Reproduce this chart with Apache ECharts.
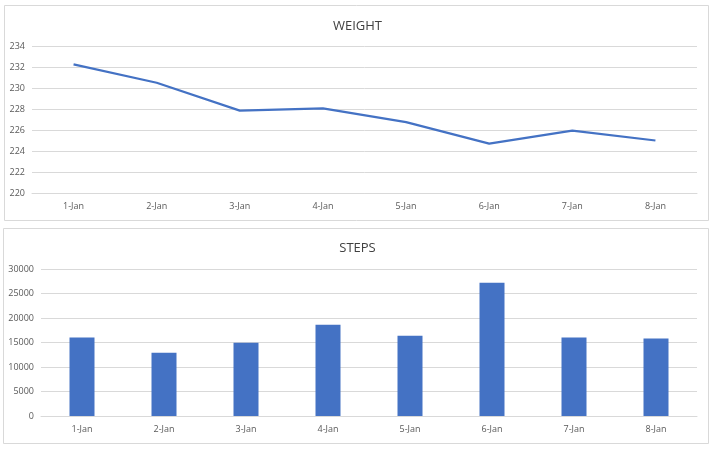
<!DOCTYPE html>
<html>
<head>
<meta charset="utf-8">
<script src="https://cdn.jsdelivr.net/npm/echarts@6/dist/echarts.min.js"></script>
<style>
  html, body { margin: 0; padding: 0; background: #fff; }
  #chart { width: 715px; height: 450px; }
</style>
</head>
<body>
<div id="chart"></div>
<script>
var days = ['1-Jan', '2-Jan', '3-Jan', '4-Jan', '5-Jan', '6-Jan', '7-Jan', '8-Jan'];
var weight = [232.25, 230.5, 227.85, 228.05, 226.75, 224.7, 225.95, 225.0];
var steps = [16000, 12900, 14950, 18600, 16400, 27200, 16000, 15800];
var weightTicks = [220, 234, 2];   // min, max, interval
var stepTicks = [0, 30000, 5000];

var blue = '#4472c4';
var grey = '#d9d9d9';
var txt = '#595959';
var font = 'Open Sans';

function xAxisFor(gridIndex) {
    return {
        type: 'category',
        gridIndex: gridIndex,
        data: days,
        boundaryGap: true,
        axisLine: { lineStyle: { color: grey } },
        axisTick: { show: false },
        axisLabel: { color: txt, fontSize: 9, fontFamily: font, margin: 9 }
    };
}

function yAxisFor(gridIndex, ticks) {
    return {
        type: 'value',
        gridIndex: gridIndex,
        min: ticks[0],
        max: ticks[1],
        interval: ticks[2],
        axisLine: { show: false },
        axisTick: { show: false },
        splitLine: { lineStyle: { color: grey } },
        axisLabel: { color: txt, fontSize: 9, fontFamily: font, margin: 7,
                     formatter: function (v) { return String(v); } }
    };
}

var option = {
    animation: false,
    backgroundColor: '#fff',
    graphic: [
        { type: 'rect', shape: { x: 4.5, y: 5.5, width: 704, height: 215 },
          style: { fill: 'none', stroke: grey, lineWidth: 1 } },
        { type: 'rect', shape: { x: 3.5, y: 228.5, width: 705, height: 215 },
          style: { fill: 'none', stroke: grey, lineWidth: 1 } }
    ],
    title: [
        { text: 'WEIGHT', left: 'center', top: 15,
          textStyle: { color: '#404040', fontSize: 13, fontWeight: 'normal', fontFamily: font } },
        { text: 'STEPS', left: 'center', top: 237,
          textStyle: { color: '#404040', fontSize: 13, fontWeight: 'normal', fontFamily: font } }
    ],
    grid: [
        { left: 32, right: 18, top: 46, bottom: 257 },
        { left: 41, right: 18, top: 269, bottom: 34 }
    ],
    xAxis: [xAxisFor(0), xAxisFor(1)],
    yAxis: [yAxisFor(0, weightTicks), yAxisFor(1, stepTicks)],
    series: [
        {
            type: 'line',
            xAxisIndex: 0,
            yAxisIndex: 0,
            data: weight,
            showSymbol: false,
            lineStyle: { color: blue, width: 2.25 },
            itemStyle: { color: blue }
        },
        {
            type: 'bar',
            xAxisIndex: 1,
            yAxisIndex: 1,
            data: steps,
            barWidth: 25,
            itemStyle: { color: blue }
        }
    ]
};

echarts.init(document.getElementById('chart')).setOption(option);
</script>
</body>
</html>
